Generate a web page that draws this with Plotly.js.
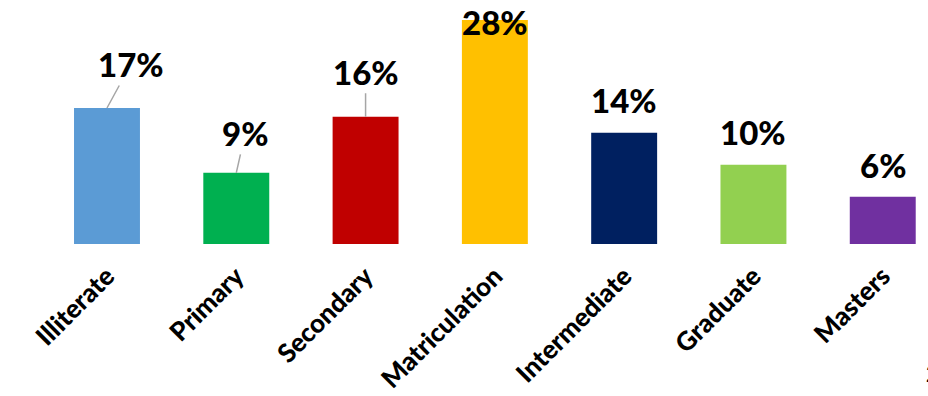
<!DOCTYPE html>
<html><head><meta charset="utf-8">
<script src="https://cdn.plot.ly/plotly-3.0.1.min.js"></script>
<style>html,body{margin:0;padding:0;background:#fff}#c{width:928px;height:396px}</style>
</head><body><div id="c"></div>
<script>
const categories = ["Illiterate","Primary","Secondary","Matriculation","Intermediate","Graduate","Masters"];
const values = [17, 8.9, 15.9, 28, 13.9, 9.9, 5.9];
const labels = ["17%","9%","16%","28%","14%","10%","6%"];
const colors = ["#5B9BD5","#00B050","#C00000","#FFC000","#002060","#92D050","#7030A0"];

// label placement (pixels): [ax, ay, showArrow, yshift]
const labelPlace = [[24,-44,true,0],[9,-40,true,0],[0,-45,true,0],[0,0,false,-2],[0,0,false,33],[0,0,false,33],[0,0,false,32]];

const font = "Lato, 'Open Sans', sans-serif";
const annotations = categories.map((c,i)=>{
  const p = labelPlace[i];
  const a = {x:c, y:values[i], xref:'x', yref:'y', text:labels[i],
    font:{family:font, size:33, color:'#000', weight:900}, showarrow:p[2]};
  if(p[2]){ Object.assign(a,{ax:p[0],ay:p[1],arrowhead:0,arrowwidth:1.5,arrowcolor:'#A6A6A6',standoff:0,startstandoff:0}); }
  else { Object.assign(a,{yanchor:'middle',yshift:p[3]}); }
  return a;
});
annotations.push({xref:'paper',yref:'paper',x:0.996,y:-0.53,xanchor:'left',yanchor:'middle',showarrow:false,
  text:'<b>2</b>',font:{family:font,size:22,color:'#000'}});

Plotly.newPlot('c',[{
  type:'bar', x:categories, y:values, marker:{color:colors}, width:0.51, hoverinfo:'skip'
}],{
  width:928,height:396,margin:{l:0,r:0,t:0,b:152},
  paper_bgcolor:'#fff',plot_bgcolor:'#fff',showlegend:false,
  xaxis:{range:[-0.8275,6.35],tickangle:-45,showgrid:false,zeroline:false,showline:false,ticks:'',
    ticklabelstandoff:11,
    tickfont:{family:font,size:26,color:'#000',weight:900}},
  yaxis:{range:[0,30.5],visible:false,showgrid:false,zeroline:false},
  annotations:annotations
},{staticPlot:true});
</script></body></html>
